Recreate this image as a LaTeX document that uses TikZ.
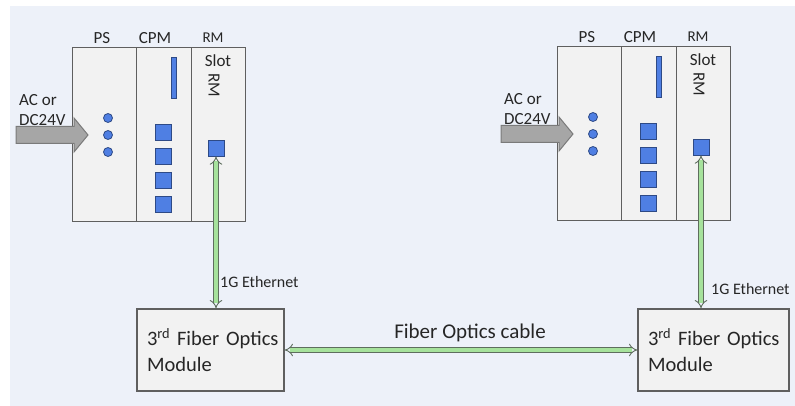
\documentclass[tikz,border=0pt]{standalone}
\usepackage{fontspec}
\setmainfont{Carlito}
\usetikzlibrary{arrows.meta,calc}
\definecolor{bgblue}{HTML}{EDF1F9}
\definecolor{boxfill}{HTML}{F2F2F2}
\definecolor{boxline}{HTML}{5F5F5F}
\definecolor{ledblue}{HTML}{4F7FE3}
\definecolor{ledline}{HTML}{2E4A86}
\definecolor{txt}{HTML}{262626}
\definecolor{lgreen}{HTML}{A6E29C}
\definecolor{ggray}{HTML}{5E6E5E}
\definecolor{acfill}{HTML}{A6A6A6}
\definecolor{acline}{HTML}{7A7A7A}
\tikzset{
  rackpart/.style={draw=boxline, fill=boxfill, line width=1.3pt, inner sep=0pt, anchor=north west, minimum height=174pt},
  lbl/.style={text=txt, inner sep=0pt, font=\fontsize{17}{20}\selectfont},
  smlbl/.style={text=txt, inner sep=0pt, font=\fontsize{15}{18}\selectfont},
  ethlbl/.style={text=txt, inner sep=0pt, font=\fontsize{16}{19}\selectfont},
  led/.style={draw=ledline, fill=ledblue, line width=0.8pt, inner sep=0pt},
  sqled/.style={led, minimum size=16pt},
  dotled/.style={led, circle, minimum size=9pt},
  acarrow/.style={draw=acline, fill=acfill, line width=1pt},
  modbox/.style={draw=boxline, fill=boxfill, line width=1.3pt, minimum height=82pt, align=left, text=txt, inner xsep=0pt, font=\fontsize{20.5}{26}\selectfont},
  gline/.style={draw=ggray, double=lgreen, double distance=3.5pt, line width=0.9pt, {Implies}-{Implies}},
}
\newcommand\plcrack[2]{%
\begin{scope}[shift={#2}]
  \node[rackpart, minimum width=64pt] (#1ps) at (0,0) {};
  \node[rackpart, minimum width=55pt] (#1cpm) at (64,0) {};
  \node[rackpart, minimum width=54pt] (#1rm) at (119,0) {};
  \node[lbl] (#1pslbl) at (30,-9) {PS};
  \node[lbl] (#1cpmlbl) at (83,-9) {CPM};
  \node[smlbl] (#1rmlbl) at (141,-9) {RM};
  \node[lbl] (#1slot) at (146,14) {Slot};
  \node[lbl, rotate=-90] (#1rmrot) at (142,38) {RM};
  \node[led, minimum width=5pt, minimum height=41pt] (#1bar) at (101.5,30.5) {};
  \node[dotled] (#1d1) at (36,71) {};
  \node[dotled] (#1d2) at (36,88) {};
  \node[dotled] (#1d3) at (36,105) {};
  \node[sqled] (#1s1) at (91,85) {};
  \node[sqled] (#1s2) at (91,109) {};
  \node[sqled] (#1s3) at (91,133) {};
  \node[sqled] (#1s4) at (91,157) {};
  \node[sqled] (#1port) at (144,101) {};
  \draw[acarrow] (-56,79.5) -- (2,79.5) -- (2,71) -- (16,88) -- (2,105) -- (2,96.5) -- (-56,96.5) -- cycle;
  \node[lbl, align=left, anchor=west] (#1ac) at (-53,63) {AC or\\DC24V};
\end{scope}}
\begin{document}
\begin{tikzpicture}[x=1pt,y=-1pt]
  \fill[white] (0,0) rectangle (795,406);
  \fill[bgblue] (10,6) rectangle (795,406);
  \useasboundingbox (0,0) rectangle (795,406);
  \plcrack{L}{(72,47)}
  \plcrack{R}{(557,46)}
  \node[modbox, minimum width=147pt, text width=127pt] (Lbox) at (210.5,350) {\mbox{3\textsuperscript{rd} Fiber Optics}\\Module};
  \node[modbox, minimum width=151pt, text width=131pt] (Rbox) at (713.5,350) {\mbox{3\textsuperscript{rd} Fiber Optics}\\Module};
  \draw[gline] (Lport.south) -- (Lport.south |- Lbox.north);
  \draw[gline] (Rport.south) -- (Rport.south |- Rbox.north);
  \draw[gline] (Lbox.east) -- (Rbox.west);
  \node[ethlbl, anchor=west] (Leth) at (220,282) {1G Ethernet};
  \node[ethlbl, anchor=west] (Reth) at (711,289) {1G Ethernet};
  \node[text=txt, inner sep=0pt, font=\fontsize{21}{26}\selectfont] (cable) at (470,333) {Fiber Optics cable};
\end{tikzpicture}
\end{document}
